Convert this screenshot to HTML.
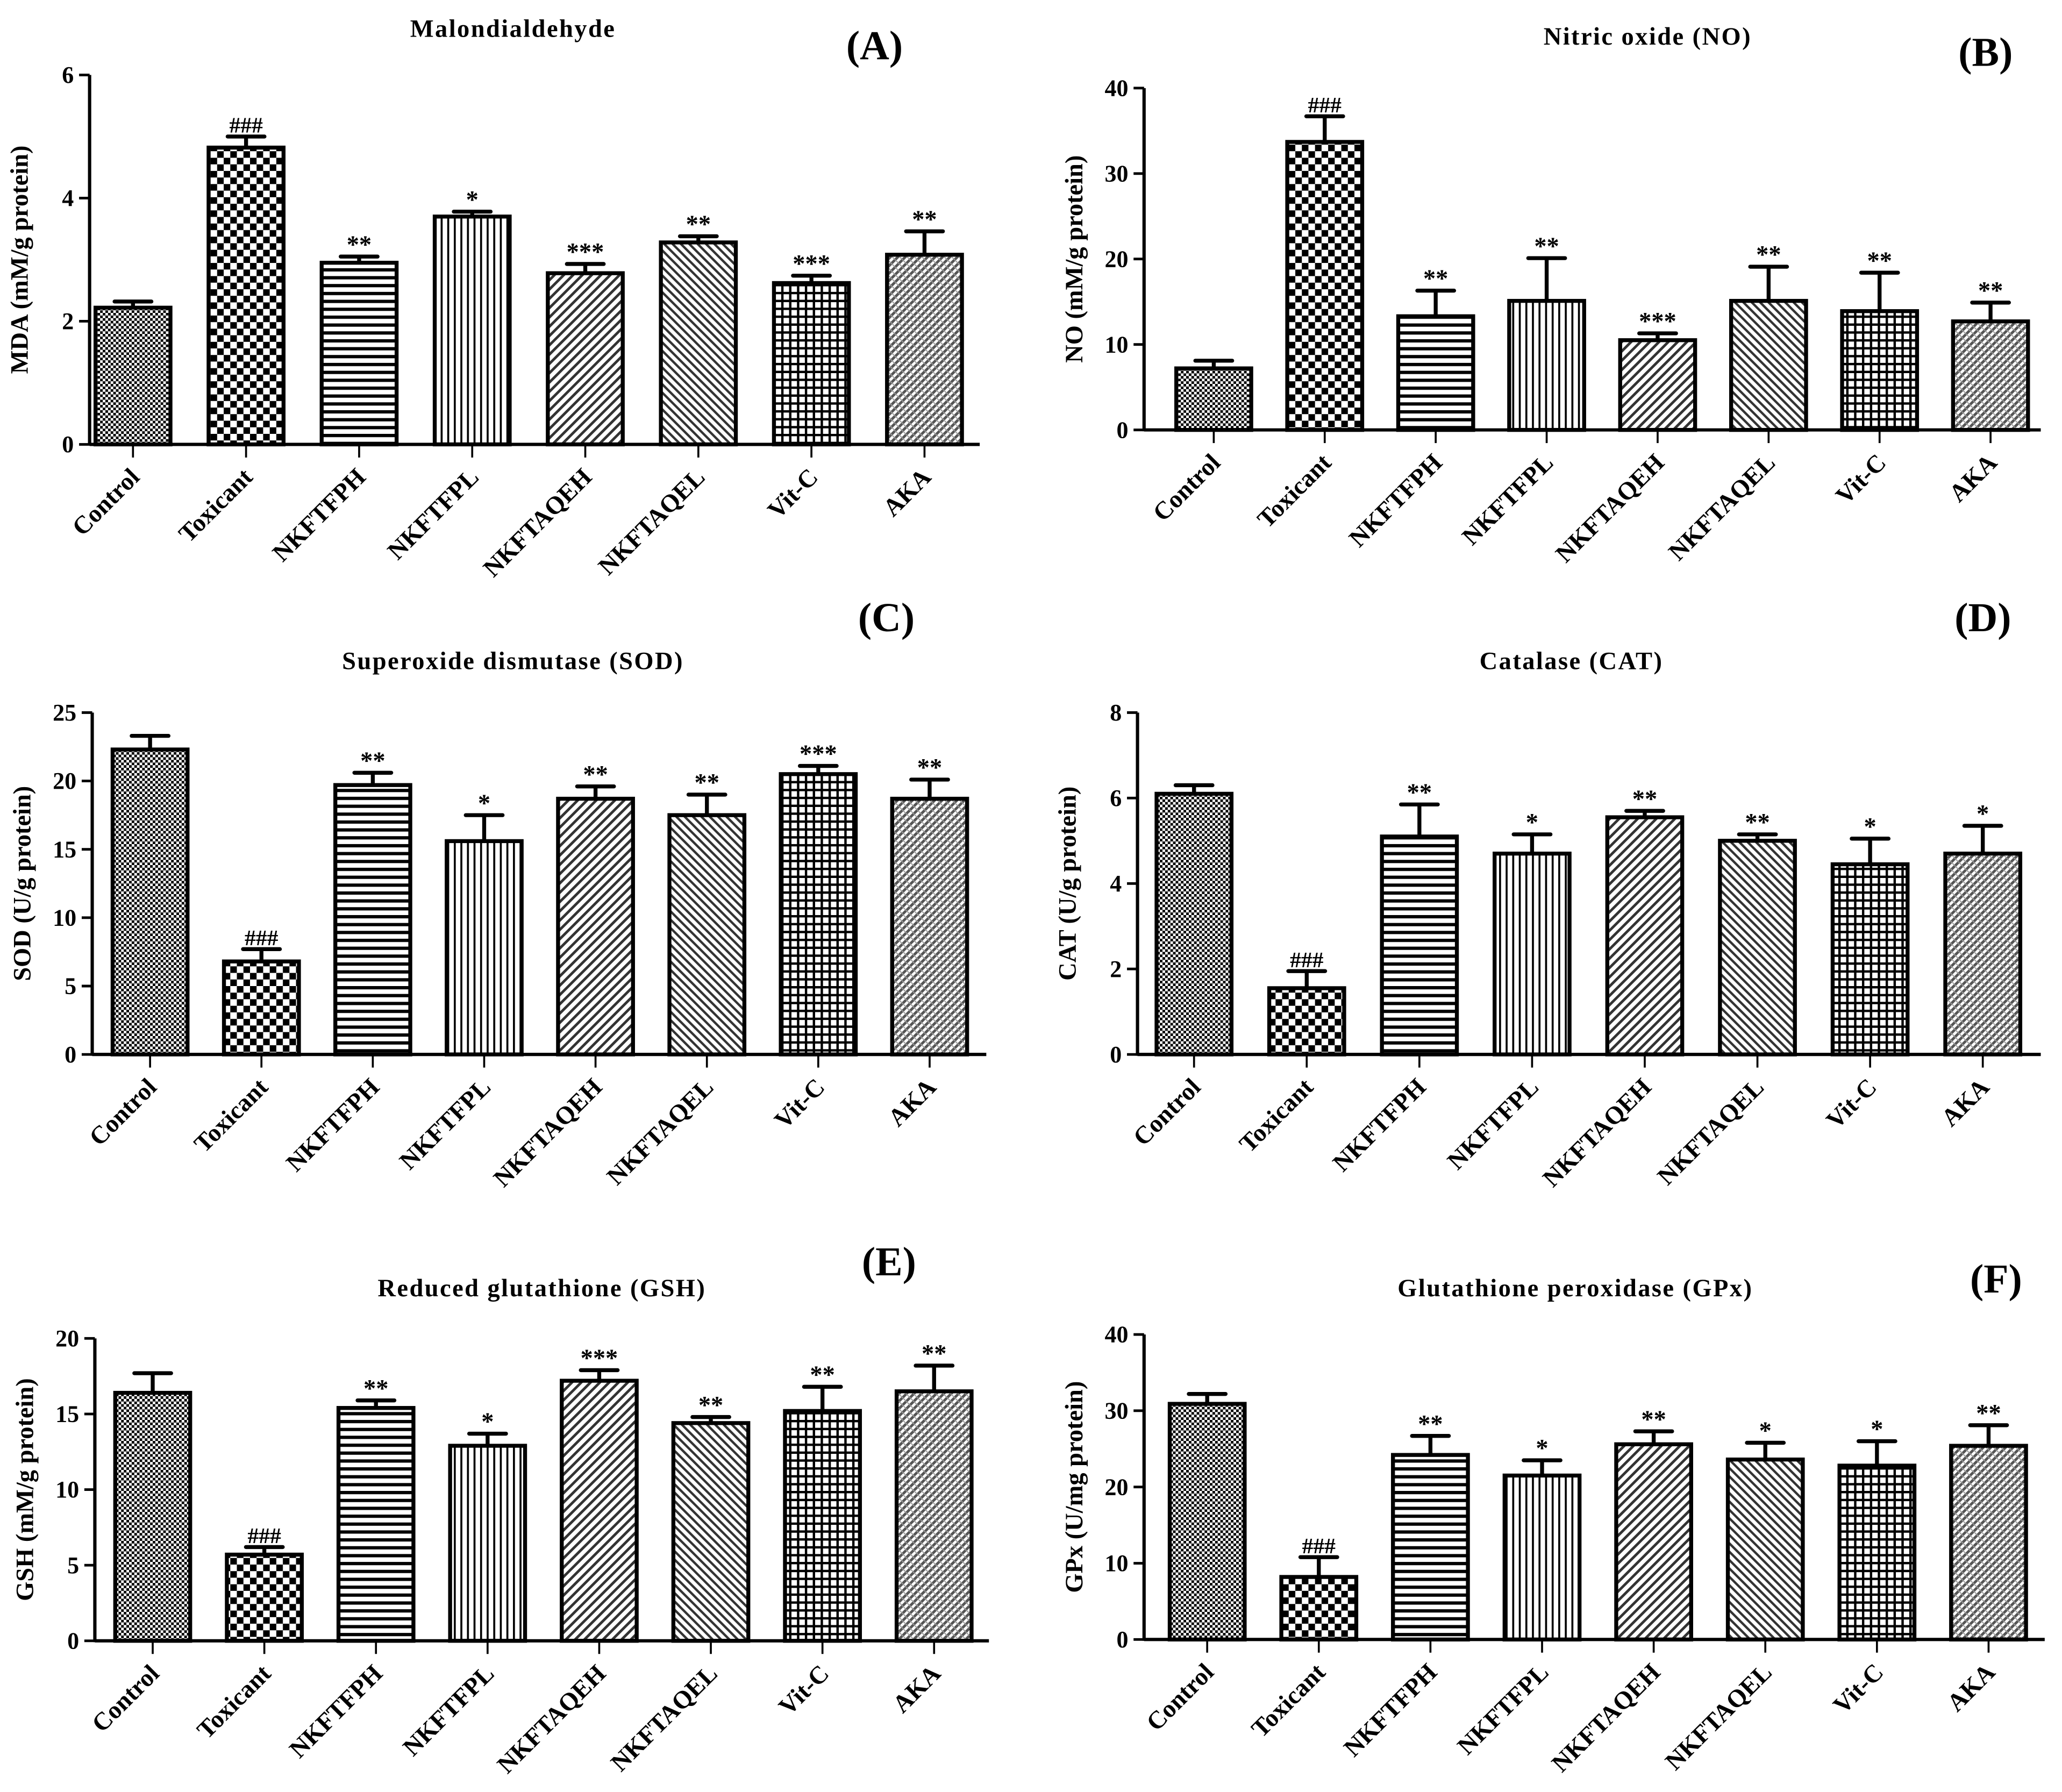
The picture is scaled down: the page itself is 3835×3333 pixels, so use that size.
<!DOCTYPE html>
<html><head><meta charset="utf-8"><style>
html,body{margin:0;padding:0;background:#fff;}
svg{display:block;}
text{font-family:"Liberation Serif",serif;font-weight:bold;fill:#000;}
</style></head><body>
<svg id="chart" width="3835" height="3333" viewBox="0 0 1568 1363" xmlns="http://www.w3.org/2000/svg">
<defs>
<pattern id="p0" width="4" height="4" patternUnits="userSpaceOnUse"><rect width="4" height="4" fill="#fff"/><rect width="2" height="2" fill="#000"/><rect x="2" y="2" width="2" height="2" fill="#000"/></pattern>
<pattern id="p1" width="10" height="10" patternUnits="userSpaceOnUse"><rect width="10" height="10" fill="#fff"/><rect width="5" height="5" fill="#000"/><rect x="5" y="5" width="5" height="5" fill="#000"/></pattern>
<pattern id="p2" width="6" height="6" patternUnits="userSpaceOnUse"><rect width="6" height="6" fill="#fff"/><rect y="0" width="6" height="2.5" fill="#000"/></pattern>
<pattern id="p3" width="5" height="5" patternUnits="userSpaceOnUse"><rect width="5" height="5" fill="#fff"/><rect width="1.5" height="5" fill="#000"/></pattern>
<pattern id="p4" width="5" height="5" patternUnits="userSpaceOnUse" patternTransform="rotate(45)"><rect width="5" height="5" fill="#fff"/><rect width="2" height="5" fill="#333"/></pattern>
<pattern id="p5" width="4.5" height="4.5" patternUnits="userSpaceOnUse" patternTransform="rotate(-45)"><rect width="4.5" height="4.5" fill="#fff"/><rect width="1.8" height="4.5" fill="#333"/></pattern>
<pattern id="p6" width="6" height="6" patternUnits="userSpaceOnUse"><rect width="6" height="6" fill="#fff"/><rect width="1.8" height="6" fill="#000"/><rect width="6" height="1.8" fill="#000"/></pattern>
<pattern id="p7" width="4" height="4" patternUnits="userSpaceOnUse" patternTransform="rotate(45)"><rect width="4" height="4" fill="#fff"/><rect width="2" height="4" fill="#555"/><rect y="2" width="4" height="0.8" fill="#999"/></pattern>
</defs>
</svg>
<script>
const categories = ["Control","Toxicant","NKFTFPH","NKFTFPL","NKFTAQEH","NKFTAQEL","Vit-C","AKA"];
const valuesA = [2.22,4.82,2.95,3.7,2.78,3.28,2.62,3.08];
const errorsA = [0.1,0.18,0.1,0.08,0.15,0.1,0.12,0.38];
const sigA = ["","###","**","*","***","**","***","**"];
const ticksA = [0,2,4,6];
const valuesB = [7.2,33.7,13.3,15.1,10.5,15.1,13.9,12.7];
const errorsB = [0.9,3.0,3.0,5.0,0.8,4.0,4.5,2.2];
const sigB = ["","###","**","**","***","**","**","**"];
const ticksB = [0,10,20,30,40];
const valuesC = [22.3,6.8,19.7,15.6,18.7,17.5,20.5,18.7];
const errorsC = [1.0,0.9,0.9,1.9,0.9,1.5,0.6,1.4];
const sigC = ["","###","**","*","**","**","***","**"];
const ticksC = [0,5,10,15,20,25];
const valuesD = [6.1,1.55,5.1,4.7,5.55,5.0,4.45,4.7];
const errorsD = [0.2,0.4,0.75,0.45,0.15,0.15,0.6,0.65];
const sigD = ["","###","**","*","**","**","*","*"];
const ticksD = [0,2,4,6,8];
const valuesE = [16.4,5.7,15.4,12.9,17.2,14.4,15.2,16.5];
const errorsE = [1.3,0.5,0.5,0.8,0.7,0.4,1.6,1.7];
const sigE = ["","###","**","*","***","**","**","**"];
const ticksE = [0,5,10,15,20];
const valuesF = [30.9,8.2,24.2,21.5,25.6,23.6,22.8,25.4];
const errorsF = [1.3,2.6,2.5,2.0,1.7,2.2,3.2,2.7];
const sigF = ["","###","**","*","**","*","*","**"];
const ticksF = [0,10,20,30,40];

const NS="http://www.w3.org/2000/svg";
const svg=document.getElementById('chart');
function mk(tag,attrs,parent){const e=document.createElementNS(NS,tag);for(const k in attrs)e.setAttribute(k,attrs[k]);(parent||svg).appendChild(e);return e;}

const panels=[
 {id:'a',title:'Malondialdehyde',tx:390,ty:28,lab:'(A)',lx:665,ly:45,ylab:'MDA (mM/g protein)',ax:68,y0:338,y1:57,x0:101,dx:86,xend:745,vals:valuesA,errs:errorsA,sig:sigA,ticks:ticksA},
 {id:'b',title:'Nitric oxide (NO)',tx:1253,ty:34,lab:'(B)',lx:1510,ly:50,ylab:'NO (mM/g protein)',ax:870,y0:327,y1:67,x0:923,dx:84.4,xend:1552,vals:valuesB,errs:errorsB,sig:sigB,ticks:ticksB},
 {id:'c',title:'Superoxide dismutase (SOD)',tx:390,ty:509,lab:'(C)',lx:674,ly:480,ylab:'SOD (U/g protein)',ax:70,y0:802,y1:542,x0:114,dx:84.7,xend:750,vals:valuesC,errs:errorsC,sig:sigC,ticks:ticksC},
 {id:'d',title:'Catalase (CAT)',tx:1195,ty:509,lab:'(D)',lx:1508,ly:480,ylab:'CAT (U/g protein)',ax:865,y0:802,y1:542,x0:908,dx:85.7,xend:1552,vals:valuesD,errs:errorsD,sig:sigD,ticks:ticksD},
 {id:'e',title:'Reduced glutathione (GSH)',tx:412,ty:986,lab:'(E)',lx:676,ly:970,ylab:'GSH (mM/g protein)',ax:72,y0:1248,y1:1018,x0:116,dx:84.9,xend:752,vals:valuesE,errs:errorsE,sig:sigE,ticks:ticksE},
 {id:'f',title:'Glutathione peroxidase (GPx)',tx:1198,ty:986,lab:'(F)',lx:1518,ly:983,ylab:'GPx (U/mg protein)',ax:870,y0:1247,y1:1015,x0:918,dx:84.9,xend:1555,vals:valuesF,errs:errorsF,sig:sigF,ticks:ticksF}
];

panels.forEach(p=>{
  const g=mk('g',{});
  
  
  const tmax=p.ticks[p.ticks.length-1];
  const ys=v=>p.y0-(v/tmax)*(p.y0-p.y1);
  const xs=i=>p.x0+i*p.dx;
  const t=mk('text',{x:p.tx,y:p.ty,'text-anchor':'middle','font-size':19,'letter-spacing':1},g);t.textContent=p.title;
  
  
  const l=mk('text',{x:p.lx,y:p.ly,'text-anchor':'middle','font-size':31},g);l.textContent=p.lab;
  
  
  const yl=mk('text',{x:0,y:0,'text-anchor':'middle','font-size':19,transform:`translate(${p.ax-47},${(p.y0+p.y1)/2}) rotate(-90)`},g);yl.textContent=p.ylab;
  
  
  p.vals.forEach((v,i)=>{
    const cx=xs(i),w=57,top=ys(v),et=ys(v+p.errs[i]);
    const eb=mk('line',{x1:cx,y1:top,x2:cx,y2:et,stroke:'#000','stroke-width':3},g);
    
    
    const cap=mk('line',{x1:cx-14,y1:et,x2:cx+14,y2:et,stroke:'#000','stroke-width':3,'stroke-linecap':'round'},g);
    
    
    const r=mk('rect',{x:cx-w/2,y:top,width:w,height:p.y0-top,fill:`url(#p${i})`,stroke:'#000','stroke-width':3},g);
    
    
    if(p.sig[i]){
      const s=mk('text',{x:cx,y:et-3,'text-anchor':'middle','font-size':p.sig[i][0]=='#'?17:19,'font-weight':'normal'},g);
      s.textContent=p.sig[i];
      
      
    }
    const tk=mk('line',{x1:cx,y1:p.y0,x2:cx,y2:p.y0+10,stroke:'#000','stroke-width':1.5},g);
    
    
    const xl=mk('text',{x:0,y:0,'text-anchor':'end','font-size':19,transform:`translate(${cx+6},${p.y0+26}) rotate(-45)`},g);
    xl.textContent=categories[i];
    
    
  });
  p.ticks.forEach(v=>{
    const y=ys(v);
    const tk=mk('line',{x1:p.ax-8,y1:y,x2:p.ax,y2:y,stroke:'#000','stroke-width':2},g);
    
    
    const tl=mk('text',{x:p.ax-12,y:y+6,'text-anchor':'end','font-size':18},g);
    tl.textContent=v;
    
    
  });
  const ya=mk('line',{x1:p.ax,y1:p.y1,x2:p.ax,y2:p.y0+1,stroke:'#000','stroke-width':2.5},g);
  
  
  const xa=mk('line',{x1:p.ax,y1:p.y0,x2:p.xend,y2:p.y0,stroke:'#000','stroke-width':2.5},g);
  
  
});
</script>
</body></html>
